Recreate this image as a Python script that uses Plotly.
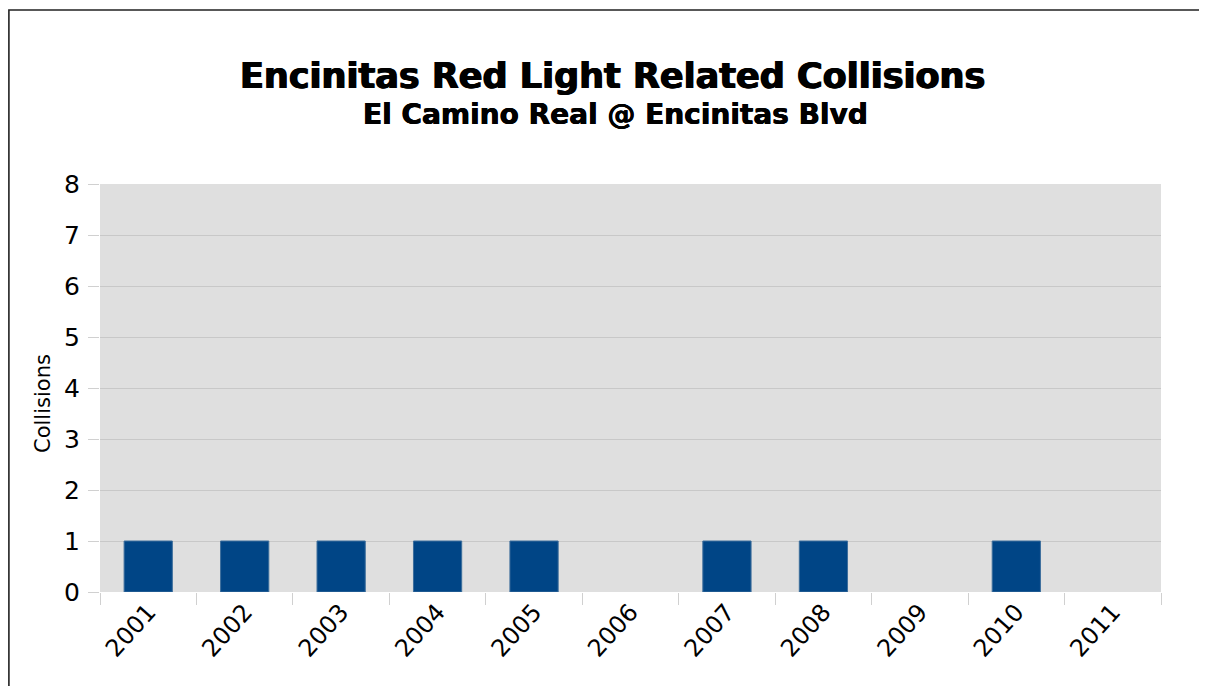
import plotly.graph_objects as go

years = ["2001", "2002", "2003", "2004", "2005", "2006", "2007", "2008", "2009", "2010", "2011"]
collisions = [1, 1, 1, 1, 1, 0, 1, 1, 0, 1, 0]
y_ticks = [0, 1, 2, 3, 4, 5, 6, 7, 8]

title_text = "Encinitas Red Light Related Collisions"
subtitle_text = "El Camino Real @ Encinitas Blvd"
y_title = "Collisions"

# page has an 8px body margin; work in page pixels and convert
OFF = 8
W, H = 1207 - OFF, 686 - OFF
PL, PR, PT, PB = 100, 1161, 184, 592  # plot area in page pixels
L, T = PL - OFF, PT - OFF
R, B = W - (PR - OFF), H - (PB - OFF)
PW, PH = PR - PL, PB - PT

def px_x(x):
    return (x - PL) / PW

def px_y(y):
    return (PB - y) / PH

fig = go.Figure(
    go.Bar(
        x=years,
        y=collisions,
        width=0.5,
        marker=dict(
            color="#004586",
            line=dict(color="#3d6e9c", width=[1 if v > 0 else 0 for v in collisions]),
        ),
    )
)

fig.update_layout(
    width=W,
    height=H,
    margin=dict(l=L, r=R, t=T, b=B, autoexpand=False),
    paper_bgcolor="white",
    plot_bgcolor="#dfdfdf",
    showlegend=False,
    font=dict(family="DejaVu Sans", color="black"),
    xaxis=dict(
        type="category",
        showgrid=False,
        zeroline=False,
        showline=False,
        ticks="outside",
        tickson="boundaries",
        ticklen=12,
        tickcolor="#d0d0d0",
        tickwidth=1,
        tickangle=-48,
        tickfont=dict(family="DejaVu Sans", size=24, color="black"),
    ),
    yaxis=dict(
        range=[0, 8],
        tickvals=y_ticks,
        showgrid=True,
        gridcolor="#c8c8c8",
        gridwidth=1,
        zeroline=False,
        showline=False,
        ticks="outside",
        ticklen=11,
        tickcolor="#d0d0d0",
        tickfont=dict(family="DejaVu Sans", size=25, color="black"),
        ticklabelstandoff=3,
    ),
    shapes=[
        dict(
            type="rect", xref="paper", yref="paper",
            x0=px_x(OFF + 0.9), x1=px_x(1300), y0=px_y(800), y1=px_y(10),
            line=dict(color="#222222", width=1.6), fillcolor="rgba(0,0,0,0)",
            layer="above",
        )
    ],
    annotations=[
        dict(
            text=title_text, xref="paper", yref="paper",
            x=px_x(612), y=px_y(76), xanchor="center", yanchor="middle",
            showarrow=False,
            font=dict(family="DejaVu Sans", size=35, color="black", weight="bold",
                      shadow="0.7px 0 0 black, -0.7px 0 0 black"),
        ),
        dict(
            text=subtitle_text, xref="paper", yref="paper",
            x=px_x(615), y=px_y(115), xanchor="center", yanchor="middle",
            showarrow=False,
            font=dict(family="DejaVu Sans", size=28, color="black", weight="bold",
                      shadow="0.4px 0 0 black, -0.4px 0 0 black"),
        ),
        dict(
            text=y_title, xref="paper", yref="paper",
            x=px_x(43), y=px_y(404), xanchor="center", yanchor="middle",
            textangle=-90, showarrow=False,
            font=dict(family="DejaVu Sans", size=21, color="black"),
        ),
    ],
)

fig.write_html("out.html")
